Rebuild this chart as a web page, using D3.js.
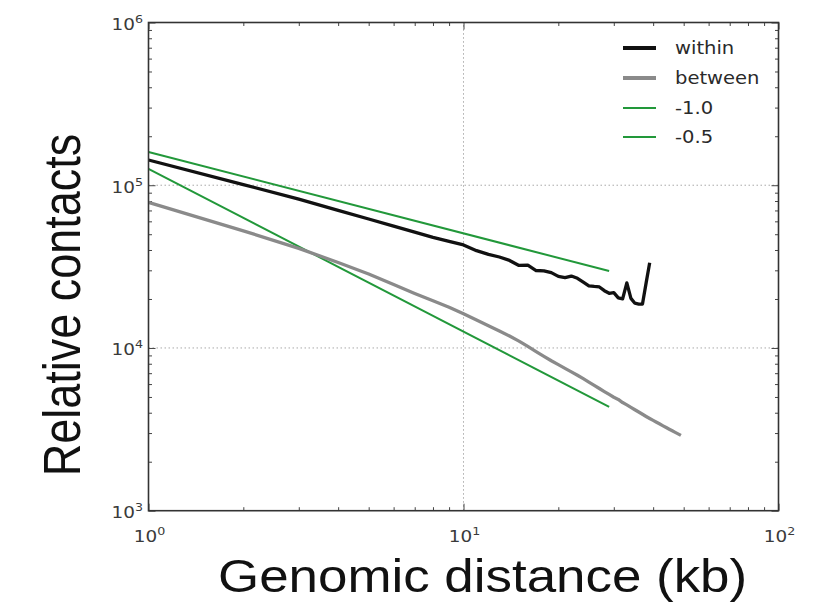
<!DOCTYPE html>
<html><head><meta charset="utf-8">
<script src="https://cdn.jsdelivr.net/npm/d3@7"></script>
<style>body{margin:0;background:#fff}svg{display:block}</style>
</head><body>
<svg id="chart" width="818" height="612"></svg>
<script>
// ---- data ----
const withinX = [1,2,3,4,5,6,7,8,9,10,11,12,13,14,15,16,17,18,19,20,21,22,23,24,25,26,27,28,29,30,31,32,33,34,35,36,37,38,39];
const withinY = [142900,101000,82160,70130,62000,56100,51550,47860,45190,42950,39630,37580,36220,34510,32140,32280,29920,29790,29040,27540,27040,27670,26790,25410,24100,23880,23710,22490,21680,21880,20320,20040,25120,20180,18840,18620,18620,25120,33420];
const betweenX = [1,2,3,4,5,6,7,8,9,10,11,12,13,14,15,16,17,18,19,20,21,22,23,24,25,26,27,28,29,30,31,32,33,34,35,36,37,38,39,40,41,42,43,44,45,46,47,48,49];
const betweenY = [78520,52480,40930,33500,28510,24550,21630,19500,17780,16220,14850,13700,12710,11840,11020,10220,9506,8886,8347,7899,7494,7129,6797,6476,6171,5891,5634,5398,5180,4981,4830,4620,4470,4317,4173,4040,3913,3794,3687,3589,3496,3408,3323,3243,3169,3097,3030,2966,2903];
const fitMinus1X = [1, 29];
const fitMinus1Y = [126000, 4345];
const fitMinus05X = [1, 29];
const fitMinus05Y = [160000, 29711];
const legendLabels = ["within", "between", "-1.0", "-0.5"];
const xTickExps = [0, 1, 2];
const yTickExps = [3, 4, 5, 6];
const xTitle = "Genomic distance (kb)";
const yTitle = "Relative contacts";

// ---- drawing ----
const svg = d3.select("#chart");
const SX = 1.15; // horizontal stretch of the original figure
const x = d3.scaleLog().domain([1, 100]).range([148.5, 778.5]);
const y = d3.scaleLog().domain([1000, 1e6]).range([510.7, 22.5]);
const tickFont = "'DejaVu Sans', sans-serif";

const xMinor = [], yMinor = [];
[1,10].forEach(b => { for (let k=2;k<10;k++) xMinor.push(b*k); });
[1e3,1e4,1e5].forEach(b => { for (let k=2;k<10;k++) yMinor.push(b*k); });
const xMajor = xTickExps.map(e => Math.pow(10, e));
const yMajor = yTickExps.map(e => Math.pow(10, e));

// grid
const grid = svg.append("g").attr("stroke", "#aaa").attr("stroke-width", 1).attr("stroke-dasharray", "1.5,2.5");
grid.selectAll("line.gx").data(xMajor.slice(1, -1)).join("line")
  .attr("x1", d => x(d)).attr("x2", d => x(d)).attr("y1", y.range()[0]).attr("y2", y.range()[1]);
grid.selectAll("line.gy").data(yMajor.slice(1, -1)).join("line")
  .attr("y1", d => y(d)).attr("y2", d => y(d)).attr("x1", x.range()[0]).attr("x2", x.range()[1]);

// axes ticks (inside, all four sides)
function styleAxis(g) {
  g.select(".domain").remove();
  g.selectAll(".tick line").attr("stroke", "#444").attr("stroke-width", 1);
  g.selectAll(".tick text").remove();
}
const x0 = x.range()[0], x1 = x.range()[1], y0 = y.range()[0], y1 = y.range()[1];
svg.append("g").attr("transform", `translate(0,${y0})`).call(d3.axisBottom(x).tickValues(xMajor).tickSize(-7)).call(styleAxis);
svg.append("g").attr("transform", `translate(0,${y0})`).call(d3.axisBottom(x).tickValues(xMinor).tickSize(-3.5)).call(styleAxis);
svg.append("g").attr("transform", `translate(0,${y1})`).call(d3.axisTop(x).tickValues(xMajor).tickSize(-7)).call(styleAxis);
svg.append("g").attr("transform", `translate(0,${y1})`).call(d3.axisTop(x).tickValues(xMinor).tickSize(-3.5)).call(styleAxis);
svg.append("g").attr("transform", `translate(${x0},0)`).call(d3.axisLeft(y).tickValues(yMajor).tickSize(-7)).call(styleAxis);
svg.append("g").attr("transform", `translate(${x0},0)`).call(d3.axisLeft(y).tickValues(yMinor).tickSize(-3.5)).call(styleAxis);
svg.append("g").attr("transform", `translate(${x1},0)`).call(d3.axisRight(y).tickValues(yMajor).tickSize(-7)).call(styleAxis);
svg.append("g").attr("transform", `translate(${x1},0)`).call(d3.axisRight(y).tickValues(yMinor).tickSize(-3.5)).call(styleAxis);

// lines
const line = d3.line().x(d => x(d[0])).y(d => y(d[1]));
const plot = svg.append("g");
const zip = (a, b) => a.map((v, i) => [v, b[i]]);
plot.append("path").datum(zip(fitMinus1X, fitMinus1Y)).attr("d", line)
  .attr("fill", "none").attr("stroke", "#22983a").attr("stroke-width", 2);
plot.append("path").datum(zip(fitMinus05X, fitMinus05Y)).attr("d", line)
  .attr("fill", "none").attr("stroke", "#22983a").attr("stroke-width", 2);
plot.append("path").datum(zip(betweenX, betweenY)).attr("d", line)
  .attr("fill", "none").attr("stroke", "#8a8a8a").attr("stroke-width", 3.3).attr("stroke-linejoin", "round");
plot.append("path").datum(zip(withinX, withinY)).attr("d", line)
  .attr("fill", "none").attr("stroke", "#111").attr("stroke-width", 3.3).attr("stroke-linejoin", "round");

// frame
svg.append("rect").attr("x", x0).attr("y", y1).attr("width", x1 - x0).attr("height", y0 - y1)
  .attr("fill", "none").attr("stroke", "#333").attr("stroke-width", 1.6);

// tick labels
function powLabel(px, py, exp, anchor) {
  const t = svg.append("text")
    .attr("transform", `translate(${px},${py}) scale(${SX},1)`)
    .attr("text-anchor", anchor).attr("font-family", tickFont).attr("font-size", 16).attr("fill", "#3a3a3a");
  t.append("tspan").text("10");
  t.append("tspan").attr("font-size", 11).attr("dy", -7).text(String(exp));
}
xTickExps.forEach(e => powLabel(x(Math.pow(10, e)) + 1, 542, e, "middle"));
yTickExps.forEach(e => powLabel(143, y(Math.pow(10, e)) + 7.5, e, "end"));

// legend
const legColors = ["#111", "#8a8a8a", "#22983a", "#22983a"];
const legWidths = [4, 4, 2, 2];
const legRowsY = [48, 78, 108, 137];
const leg = svg.append("g");
legendLabels.forEach((lab, i) => {
  leg.append("line").attr("x1", 623).attr("x2", 656).attr("y1", legRowsY[i]).attr("y2", legRowsY[i])
    .attr("stroke", legColors[i]).attr("stroke-width", legWidths[i]);
  leg.append("text").attr("transform", `translate(675,${legRowsY[i] + 6}) scale(${SX},1)`)
    .attr("font-family", tickFont).attr("font-size", 17).attr("fill", "#2a2a2a").text(lab);
});

// axis titles
svg.append("text").attr("transform", `translate(218,592) scale(${SX},1)`)
  .attr("font-family", "'Liberation Sans', Arial, sans-serif").attr("font-size", 46).attr("fill", "#111").text(xTitle);
svg.append("text").attr("transform", `translate(80,305) scale(${SX},1) rotate(-90)`)
  .attr("text-anchor", "middle")
  .attr("font-family", "'Liberation Sans', Arial, sans-serif").attr("font-size", 45).attr("fill", "#111").text(yTitle);
</script>
</body></html>
